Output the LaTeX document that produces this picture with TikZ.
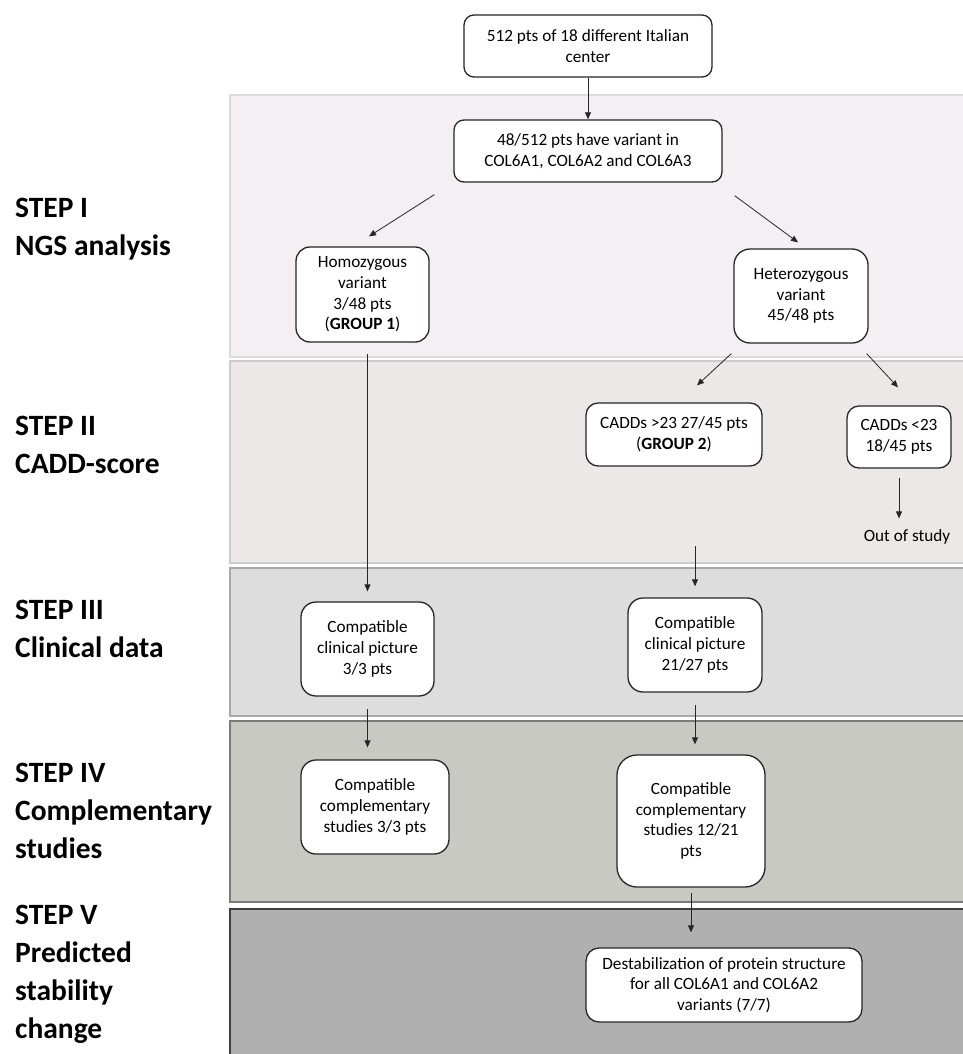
\documentclass[tikz,border=0pt]{standalone}
\usepackage{fontspec}
\setmainfont{Carlito}
\usetikzlibrary{arrows.meta,calc}
\definecolor{bI}{HTML}{F3EFF3}\definecolor{bIb}{HTML}{DCDADC}
\definecolor{bII}{HTML}{ECE8E8}\definecolor{bIIb}{HTML}{CDCBCB}
\definecolor{bIII}{HTML}{DDDDDD}\definecolor{bIIIb}{HTML}{A8A8A8}
\definecolor{bIV}{HTML}{C9C9C4}\definecolor{bIVb}{HTML}{7A7A7A}
\definecolor{bV}{HTML}{B0B0B0}\definecolor{bVb}{HTML}{3F3F3F}
\begin{document}
\begin{tikzpicture}[x=1pt,y=-1pt,
  box/.style={draw=black!85, line width=1.3pt, fill=white, rounded corners=12pt, align=center, inner sep=0pt, font=\fontsize{17.2}{20.7}\selectfont},
  arr/.style={draw=black!85, line width=0.8pt, -{Triangle[length=7pt,width=6pt]}},
  lbl/.style={anchor=north west, inner sep=0pt, align=left, font=\fontsize{29.5}{38}\selectfont\bfseries},
  band/.style={line width=2pt}]
\useasboundingbox (0,0) rectangle (962,1054);
\fill[white] (0,0) rectangle (962,1054);
% bands
\path[band, fill=bI, draw=bIb] (230,95) rectangle (966,357);
\path[band, fill=bII, draw=bIIb] (230,361) rectangle (966,563);
\path[band, fill=bIII, draw=bIIIb] (230,568) rectangle (966,716);
\path[band, fill=bIV, draw=bIVb] (230,721) rectangle (966,902);
\path[band, fill=bV, draw=bVb] (230,909) rectangle (966,1058);
% labels
\node[lbl] (s1) at (15,198) {STEP I\\NGS analysis};
\node[lbl] (s2) at (15,416) {STEP II\\CADD-score};
\node[lbl] (s3) at (15,600) {STEP III\\Clinical data};
\node[lbl] (s4) at (15,763) {STEP IV\\Complementary\\studies};
\node[lbl] (s5) at (15,905) {STEP V\\Predicted\\stability\\change};
% boxes
\node[box, minimum width=248pt, minimum height=62pt, rounded corners=10pt] (top) at (588,46) {512 pts of 18 different Italian\\center};
\node[box, minimum width=268pt, minimum height=62pt, rounded corners=10pt] (nx) at (588,151) {48/512 pts have variant in\\COL6A1, COL6A2 and COL6A3};
\node[box, minimum width=133pt, minimum height=95pt, rounded corners=14pt] (homo) at (362.5,294.5) {Homozygous\\variant\\3/48 pts\\(\textbf{GROUP 1})};
\node[box, minimum width=134pt, minimum height=94pt, rounded corners=16pt] (het) at (801,296) {Heterozygous\\variant\\45/48 pts};
\node[box, minimum width=176pt, minimum height=63pt] (ca) at (674,434.5) {CADDs >23 27/45 pts\\(\textbf{GROUP 2})};
\node[box, minimum width=104pt, minimum height=62pt] (cb) at (899,437) {CADDs <23\\18/45 pts};
\node[inner sep=0pt, font=\fontsize{17.2}{20.7}\selectfont] (out) at (907,537) {Out of study};
\node[box, minimum width=133pt, minimum height=94pt, rounded corners=15pt] (c1) at (367.5,649) {Compatible\\clinical picture\\3/3 pts};
\node[box, minimum width=134pt, minimum height=94pt, rounded corners=15pt] (c2) at (695,645) {Compatible\\clinical picture\\21/27 pts};
\node[box, minimum width=148pt, minimum height=94pt, rounded corners=15pt] (p1) at (375,807) {Compatible\\complementary\\studies 3/3 pts};
\node[box, minimum width=148pt, minimum height=132pt, rounded corners=20pt] (p2) at (691,821) {Compatible\\complementary\\studies 12/21\\pts};
\node[box, minimum width=276pt, minimum height=74pt, rounded corners=13pt] (ds) at (724,985) {Destabilization of protein structure\\for all COL6A1 and COL6A2\\variants (7/7)};
% connectors
\draw[arr] (top) -- (nx);
\draw[arr] ([shift={(-19,12)}]nx.south west) -- ([shift={(6.5,-10)}]homo.north);
\draw[arr] ([shift={(12,13)}]nx.south east) -- ([shift={(-3,-6)}]het.north);
\draw[arr, shorten <=11pt, shorten >=10pt] (homo.south -| c1.north) -- (c1.north);
\draw[arr] ([shift={(-2,10)}]het.south west) -- ([shift={(23,-17)}]ca.north);
\draw[arr] ([shift={(-2,10)}]het.south east) -- ([shift={(-1,-18)}]cb.north);
\draw[arr, shorten <=9pt, shorten >=11pt] (cb.south) -- (cb.south |- out.north);
\draw[arr, shorten <=79pt, shorten >=11pt] (c2.north |- ca.south) -- (c2.north);
\draw[arr, shorten <=12pt, shorten >=12pt] (c1.south) -- (c1.south |- p1.north);
\draw[arr, shorten <=12pt, shorten >=10pt] (c2.south) -- (c2.south |- p2.north);
\draw[arr, shorten <=5pt, shorten >=15pt] (p2.south) -- (p2.south |- ds.north);
\end{tikzpicture}
\end{document}
